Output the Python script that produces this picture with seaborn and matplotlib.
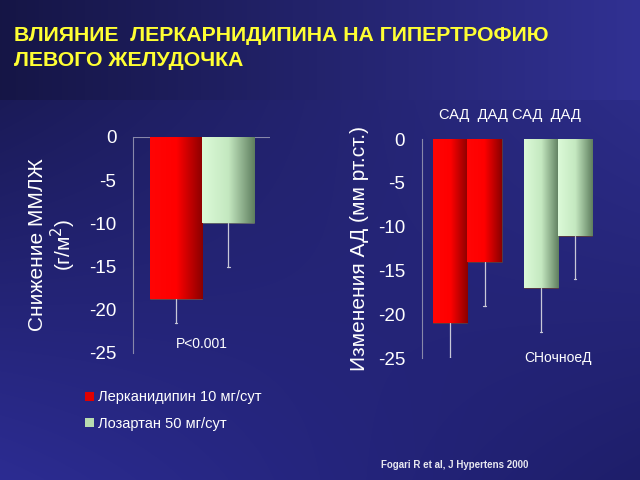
import numpy as np
import pandas as pd
import matplotlib
matplotlib.use("Agg")
import matplotlib.pyplot as plt
import seaborn as sns
from matplotlib.patches import Patch
from matplotlib.colors import LinearSegmentedColormap

# ---- data ----
drugs = ["Лерканидипин 10 мг/сут", "Лозартан 50 мг/сут"]
lvmi_change = [-18.7, -10.0]
lvmi_err_end = [-21.5, -15.0]

bp_measures = ["САД", "ДАД"]
bp_lerc = [-21.0, -14.0]
bp_lerc_err_end = [-25.0, -19.0]
bp_losa = [-17.0, -11.0]
bp_losa_err_end = [-22.0, -16.0]

yticks = [0, -5, -10, -15, -20, -25]

title = "ВЛИЯНИЕ  ЛЕРКАРНИДИПИНА НА ГИПЕРТРОФИЮ\nЛЕВОГО ЖЕЛУДОЧКА"
ylabel_left = "Снижение ММЛЖ\n(г/м$^2$)"
ylabel_right = "Изменения АД (мм рт.ст.)"
pval = "P<0.001"
night = "СНочноеД"
top_labels = "САД  ДАД САД  ДАД"
cite = "Fogari R et al, J Hypertens 2000"

sns.set_style("white")
plt.rcParams['font.family'] = ['Liberation Sans', 'DejaVu Sans']

fig = plt.figure(figsize=(6.4, 4.8), dpi=100)

# ---- background ----
bg = fig.add_axes([0, 0, 1, 1], zorder=-10)
H, W = 480, 640
yy, xx = np.mgrid[0:H, 0:W] / np.array([H, W])[:, None, None]
img = np.zeros((H, W, 3))
c_tl = np.array([0x16, 0x16, 0x48]) / 255
c_tr = np.array([0x30, 0x30, 0x90]) / 255
c_bl = np.array([0x2c, 0x2c, 0x92]) / 255
c_br = np.array([0x1e, 0x1e, 0x6a]) / 255
for k in range(3):
    top = c_tl[k] * (1 - xx) + c_tr[k] * xx
    bot = c_bl[k] * (1 - xx) + c_br[k] * xx
    img[..., k] = top * (1 - yy) + bot * yy
# header band
hx = np.linspace(0, 1, W)
for k in range(3):
    img[:100, :, k] = (c_tl[k] * 0.97) * (1 - hx) + (c_tr[k] * 1.02) * hx
bg.imshow(np.clip(img, 0, 1), aspect='auto', extent=[0, 1, 0, 1])
bg.set_axis_off()

red_cmap = LinearSegmentedColormap.from_list("r", ["#ff0505", "#ff0000", "#8a0000"])
green_cmap = LinearSegmentedColormap.from_list("g", ["#dcfad8", "#c4e8c0", "#5e7e5e"])

def gradient_fill(ax, patch, cmap):
    bb = patch.get_bbox()
    grad = np.linspace(0, 1, 256).reshape(1, -1)
    im = ax.imshow(grad, cmap=cmap, aspect='auto',
                   extent=[bb.x0, bb.x1, bb.y0, bb.y1], zorder=patch.get_zorder() + 0.1)
    im.set_clip_path(patch)

def style_axis(ax):
    ax.set_facecolor("none")
    ax.set_ylim(-25, 0)
    ax.set_yticks(yticks)
    ax.set_yticklabels([str(t) for t in yticks], color="white", fontsize=13.5)
    ax.tick_params(axis='y', length=3, color="#a0a0c0", pad=9)
    ax.set_xticks([])
    ax.set_xlabel("")
    for s in ["top", "right", "bottom"]:
        ax.spines[s].set_visible(False)
    ax.spines["left"].set_color("#8888aa")
    ax.spines["left"].set_linewidth(0.8)

# ---- left chart ----
axL = fig.add_axes([0.208, 0.2646, 0.214, 0.45])
dfL = pd.DataFrame({"g": ["a", "a"], "drug": drugs, "val": lvmi_change})
sns.barplot(data=dfL, x="g", y="val", hue="drug", ax=axL, width=0.8,
            palette=["#ff0000", "#c8f0c8"], edgecolor="#555555", linewidth=0.5,
            legend=False)
axL.set_xlim(-0.53, 0.52)
style_axis(axL)
axL.axhline(0, color="#8888aa", lw=0.8, zorder=0)
cmapsL = [red_cmap, green_cmap]
for p, cm, val, e in zip(axL.patches, cmapsL, lvmi_change, lvmi_err_end):
    gradient_fill(axL, p, cm)
    xc = p.get_x() + p.get_width() / 2
    axL.plot([xc, xc], [val, e], color="#c8c8d8", lw=0.9, zorder=1)
    axL.plot([xc - 0.01, xc + 0.01], [e, e], color="#c8c8d8", lw=0.9, zorder=1)
axL.set_ylabel(ylabel_left, color="white", fontsize=15, labelpad=8, linespacing=1.1)
axL.text(0.0, -24.0, pval, color="white", fontsize=10, ha="center", va="center")

# ---- right chart ----
axR = fig.add_axes([0.659, 0.254, 0.278, 0.456])
dfR = pd.DataFrame({
    "drug": [drugs[0], drugs[0], drugs[1], drugs[1]],
    "m": bp_measures * 2,
    "val": bp_lerc + bp_losa,
})
sns.barplot(data=dfR, x="drug", y="val", hue="m", ax=axR, width=0.76,
            palette=["#ff0000", "#ff0000"], edgecolor="#444444", linewidth=0.5,
            legend=False)
axR.set_xlim(-0.503, 1.46)
style_axis(axR)
ends = {(drugs[0], "САД"): bp_lerc_err_end[0], (drugs[0], "ДАД"): bp_lerc_err_end[1],
        (drugs[1], "САД"): bp_losa_err_end[0], (drugs[1], "ДАД"): bp_losa_err_end[1]}
for p in axR.patches:
    xc = p.get_x() + p.get_width() / 2
    di = int(round(xc))
    mi = 0 if xc < di else 1
    cm = red_cmap if di == 0 else green_cmap
    gradient_fill(axR, p, cm)
    val = p.get_height()
    e = ends[(drugs[di], bp_measures[mi])]
    axR.plot([xc, xc], [val, e], color="#c8c8d8", lw=0.9, zorder=1)
    axR.plot([xc - 0.012, xc + 0.012], [e, e], color="#c8c8d8", lw=0.9, zorder=1)
axR.set_ylabel(ylabel_right, color="white", fontsize=15, labelpad=6)
axR.text(1.0, -25.0, night, color="white", fontsize=10, ha="center", va="center")
fig.text(0.797, 0.76, top_labels, color="white", fontsize=10.5, ha="center", va="center")

# ---- legend ----
handles = [Patch(facecolor="#e00000", edgecolor="none"),
           Patch(facecolor="#b8dcb0", edgecolor="none")]
fig.legend(handles, drugs, loc="upper left", bbox_to_anchor=(0.112, 0.214),
           frameon=False, fontsize=10.5, labelcolor="white", handlelength=0.6,
           handleheight=0.6, handletextpad=0.3, labelspacing=0.85)

# ---- title & citation ----
fig.text(0.022, 0.945, title, color="#ffff33", fontsize=15.3, fontweight="bold",
         ha="left", va="top", linespacing=1.4)
fig.text(0.595, 0.032, cite, color="#e8e8f0", fontsize=7, fontweight="bold",
         ha="left", va="center")

fig.savefig("out.png", dpi=100)
